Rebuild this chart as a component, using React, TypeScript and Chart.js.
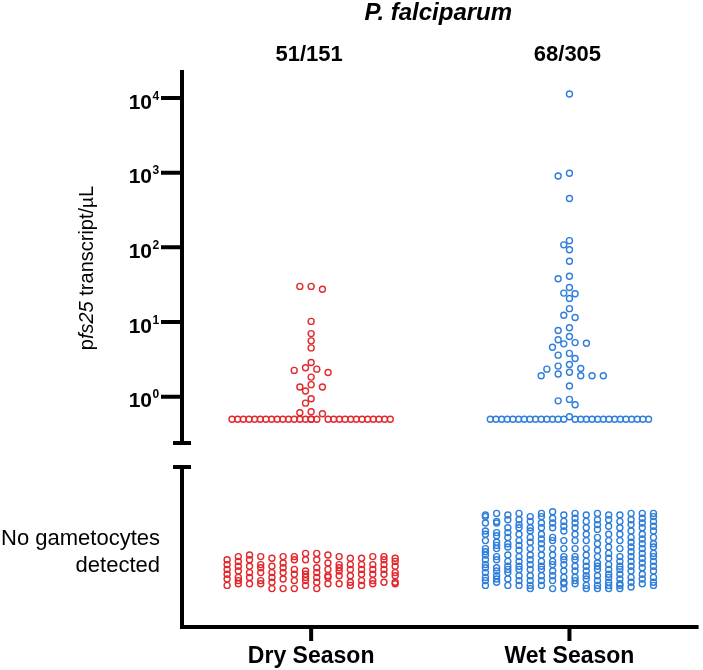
import { useEffect, useRef } from "react"
import { Chart, registerables } from "chart.js"

Chart.register(...registerables)

const chartTitle = "P. falciparum"
const seasons = ["Dry Season", "Wet Season"]
const positiveLabels = ["51/151", "68/305"]
const seasonColors = ["#e2282d", "#2e7edb"]
const decadeTicks = [0, 1, 2, 3, 4]

// pfs25 transcripts/µL in gametocyte positive samples
const dryDetected = [
  30, 30, 27.5, 10.2, 7.0, 5.6, 4.5, 2.87, 2.44, 2.34, 2.25, 2.11, 1.83, 1.45, 1.35, 1.35,
  1.19, 0.94, 0.82, 0.63, 0.61, 0.59,
  0.5, 0.5, 0.5, 0.5, 0.5, 0.5, 0.5, 0.5, 0.5, 0.5, 0.5, 0.5, 0.5, 0.5, 0.5, 0.5, 0.5, 0.5,
  0.5, 0.5, 0.5, 0.5, 0.5, 0.5, 0.5, 0.5, 0.5, 0.5, 0.5,
]
const wetDetected = [
  11300, 982, 904, 450, 123, 108, 93, 65, 41, 38, 29, 24.4, 23.9, 20.7, 15.1, 12.3, 11.5,
  8.4, 7.7, 6.4, 5.8, 5.3, 5.2, 5.1, 4.6, 3.8, 3.6, 3.25, 2.7, 2.57, 2.39, 2.34, 2.13, 2.01,
  1.91, 1.91, 1.91, 1.91, 1.39, 0.92, 0.88, 0.78, 0.54,
  0.5, 0.5, 0.5, 0.5, 0.5, 0.5, 0.5, 0.5, 0.5, 0.5, 0.5, 0.5, 0.5, 0.5, 0.5, 0.5, 0.5, 0.5,
  0.5, 0.5, 0.5, 0.5, 0.5, 0.5, 0.5, 0.5, 0.5, 0.5,
]

// "no gametocytes detected" band (lower axis segment, 0-100), one list per column
const dryUndetected = [
  [42, 39, 36, 33, 30, 26],
  [44, 41, 38, 35, 31, 29, 27],
  [45, 42, 38, 34, 31, 27],
  [44, 39, 37, 34, 29, 27],
  [43, 38, 34, 31, 28, 24],
  [44, 40, 37, 34, 30, 24],
  [44, 42, 36, 33, 29, 24],
  [46, 42, 35, 33, 31, 29, 26],
  [46, 42, 37, 34, 31, 28, 24],
  [45, 40, 36, 32, 31, 27],
  [44, 39, 37, 35, 32, 27],
  [43, 39, 36, 32, 28, 26],
  [43, 39, 36, 33, 29, 26],
  [44, 39, 36, 33, 29, 27],
  [44, 42, 39, 36, 33, 28],
  [43, 41, 38, 34, 32, 28, 27],
]
const wetUndetected = [
  [70, 69, 65, 60, 58, 54, 49, 47, 45, 42, 39, 37, 34, 31, 29, 26],
  [71, 66, 65, 59, 57, 53, 51, 49, 44, 42, 37, 35, 32, 30, 28],
  [70, 67, 62, 59, 56, 52, 50, 45, 41, 38, 36, 34, 30, 26],
  [71, 67, 64, 62, 58, 54, 51, 48, 44, 41, 38, 36, 32, 29, 26],
  [69, 66, 62, 60, 56, 53, 49, 45, 42, 39, 36, 32, 29, 26, 24],
  [71, 69, 65, 62, 58, 55, 52, 49, 45, 41, 38, 36, 32, 29, 26],
  [72, 68, 65, 62, 56, 54, 49, 45, 41, 39, 35, 32, 29, 24],
  [70, 66, 63, 60, 54, 49, 44, 42, 39, 35, 31, 28, 27, 24],
  [71, 68, 65, 62, 58, 54, 49, 44, 42, 38, 35, 31, 29, 27],
  [70, 66, 62, 58, 54, 49, 45, 41, 38, 35, 32, 30, 26, 24],
  [71, 67, 64, 61, 56, 52, 48, 44, 40, 38, 36, 32, 29, 26, 24],
  [70, 67, 63, 58, 54, 50, 46, 43, 39, 36, 33, 31, 28, 26, 24],
  [70, 66, 62, 58, 54, 49, 44, 41, 38, 36, 33, 30, 27, 26, 24],
  [71, 67, 64, 60, 56, 53, 50, 47, 44, 41, 38, 35, 31, 28, 25],
  [71, 68, 65, 62, 58, 55, 52, 49, 46, 43, 40, 37, 33, 30, 27],
  [71, 69, 66, 63, 60, 56, 52, 50, 46, 44, 41, 38, 35, 31, 28, 26],
]

const FONT = '"Liberation Sans", Arial, Helvetica, sans-serif'
const LOG_MIN = 10 ** -3.084
const LOG_MAX = 10 ** 4.375
const BREAK_LOW = 0.24 // where the log segment stops
const BAND_MAX = 348.1 // top of the lower (band) scale
const BAND_AXIS_TOP = 100 // where the lower axis segment starts

// simple beeswarm: place each point at the nearest free slot around the column centre
function swarm(values: number[], center: number, xs: any, ys: any) {
  const step = 5.7
  const maxHalf = 85
  const cx = xs.getPixelForValue(center)
  const order = values.map((_, i) => i).sort((a, b) => values[b] - values[a])
  const slots = [0]
  for (let k = 1; k * step <= maxHalf; k++) slots.push(-k * step, k * step)
  const placed: { x: number; y: number }[] = []
  const out: { x: number; y: number }[] = new Array(values.length)
  for (const i of order) {
    const py = ys.getPixelForValue(values[i])
    let off = 0
    for (const dist of [7, 5.5]) {
      const free = slots.find((s) => placed.every((p) => Math.hypot(p.x - s, p.y - py) >= dist))
      if (free !== undefined) {
        off = free
        break
      }
    }
    placed.push({ x: off, y: py })
    out[i] = { x: xs.getValueForPixel(cx + off), y: values[i] }
  }
  return out
}

function columns(cols: number[][], center: number, xs: any) {
  const gap = 11.3
  const cx = xs.getPixelForValue(center)
  return cols.flatMap((col, i) =>
    col.map((v) => ({ x: xs.getValueForPixel(cx + (i - (cols.length - 1) / 2) * gap), y: v }))
  )
}

const brokenAxes = {
  id: "brokenAxes",
  afterDraw(chart: any) {
    const { ctx, chartArea: area } = chart
    const xs = chart.scales.x
    const ys = chart.scales.y
    const y2 = chart.scales.y2
    const ax = area.left
    const ay = area.bottom
    const breakY = ys.getPixelForValue(BREAK_LOW)
    const lowerTop = y2.getPixelForValue(BAND_AXIS_TOP)

    ctx.save()
    ctx.strokeStyle = "#000"
    ctx.lineWidth = 4
    ctx.lineCap = "butt"
    ctx.beginPath()
    ctx.moveTo(ax, area.top)
    ctx.lineTo(ax, breakY)
    ctx.moveTo(ax - 9, breakY)
    ctx.lineTo(ax + 9, breakY)
    ctx.moveTo(ax - 9, lowerTop)
    ctx.lineTo(ax + 9, lowerTop)
    ctx.moveTo(ax, lowerTop)
    ctx.lineTo(ax, ay + 2)
    ctx.moveTo(ax - 2, ay)
    ctx.lineTo(area.right, ay)
    decadeTicks.forEach((e) => {
      const y = ys.getPixelForValue(10 ** e)
      ctx.moveTo(ax - 21, y)
      ctx.lineTo(ax, y)
    })
    seasons.forEach((_, i) => {
      const x = xs.getPixelForValue(i + 1)
      ctx.moveTo(x, ay)
      ctx.lineTo(x, ay + 14)
    })
    ctx.stroke()

    ctx.fillStyle = "#000"
    // decade labels 10^n
    decadeTicks.forEach((e) => {
      const y = ys.getPixelForValue(10 ** e)
      ctx.font = `bold 21px ${FONT}`
      ctx.textAlign = "right"
      ctx.textBaseline = "alphabetic"
      ctx.fillText("10", ax - 30, y + 10.5)
      ctx.font = `bold 12px ${FONT}`
      ctx.textAlign = "left"
      ctx.fillText(String(e), ax - 29.5, y + 1.5)
    })

    // title and positive counts
    ctx.textAlign = "center"
    ctx.font = `italic bold 24px ${FONT}`
    ctx.fillText(chartTitle, (area.left + area.right) / 2 - 2, 20)
    ctx.font = `bold 22px ${FONT}`
    positiveLabels.forEach((t, i) => ctx.fillText(t, xs.getPixelForValue(i + 1) - 2, 61))
    ctx.font = `bold 23px ${FONT}`
    seasons.forEach((t, i) => ctx.fillText(t, xs.getPixelForValue(i + 1), 663))

    // lower segment label
    ctx.textAlign = "right"
    ctx.font = `22px ${FONT}`
    ctx.fillText("No gametocytes", 160, 545)
    ctx.fillText("detected", 160, 572)

    // rotated y title: pfs25 transcript/µL
    const parts = [
      { t: "p", f: `20px ${FONT}` },
      { t: "fs25", f: `italic 20px ${FONT}` },
      { t: " transcript/", f: `20px ${FONT}` },
      { t: "\u00b5", f: `19px ${FONT}` },
      { t: "L", f: `20px ${FONT}` },
    ]
    let total = 0
    parts.forEach((p) => {
      ctx.font = p.f
      total += ctx.measureText(p.t).width
    })
    ctx.translate(92.5, 268)
    ctx.rotate(-Math.PI / 2)
    ctx.textAlign = "left"
    let x = -total / 2
    parts.forEach((p) => {
      ctx.font = p.f
      ctx.fillText(p.t, x, 0)
      x += ctx.measureText(p.t).width
    })
    ctx.restore()
  },
}

function pointSet(color: string, axis: string) {
  return {
    data: [] as { x: number; y: number }[],
    yAxisID: axis,
    borderColor: color,
    backgroundColor: "rgba(0,0,0,0)",
    pointBackgroundColor: "rgba(0,0,0,0)",
    pointBorderColor: color,
    pointRadius: 3,
    pointBorderWidth: 1.4,
    pointHoverRadius: 3,
    clip: false as const,
  }
}

export default function App() {
  const chartRef = useRef<HTMLCanvasElement>(null)
  const chartInstance = useRef<Chart | null>(null)

  useEffect(() => {
    document.body.style.margin = "0"
    if (!chartRef.current) return
    if (chartInstance.current) chartInstance.current.destroy()
    const ctx = chartRef.current.getContext("2d")
    if (!ctx) return

    const chart = new Chart(ctx, {
      type: "scatter",
      data: {
        datasets: [
          pointSet(seasonColors[0], "y"),
          pointSet(seasonColors[1], "y"),
          pointSet(seasonColors[0], "y2"),
          pointSet(seasonColors[1], "y2"),
        ],
      },
      options: {
        responsive: false,
        animation: false,
        events: [],
        layout: { padding: { left: 182, top: 70, right: 0, bottom: 43 } },
        scales: {
          x: { type: "linear", min: 0.5, max: 2.5, display: false },
          y: { type: "logarithmic", min: LOG_MIN, max: LOG_MAX, bounds: "data", display: false },
          y2: { type: "linear", min: 0, max: BAND_MAX, bounds: "data", display: false },
        },
        plugins: {
          legend: { display: false },
          tooltip: { enabled: false },
        },
      },
      plugins: [brokenAxes],
    })
    chartInstance.current = chart

    const xs = chart.scales.x
    const ys = chart.scales.y
    chart.data.datasets[0].data = swarm(dryDetected, 1, xs, ys)
    chart.data.datasets[1].data = swarm(wetDetected, 2, xs, ys)
    chart.data.datasets[2].data = columns(dryUndetected, 1, xs)
    chart.data.datasets[3].data = columns(wetUndetected, 2, xs)
    chart.update()

    return () => {
      if (chartInstance.current) {
        chartInstance.current.destroy()
        chartInstance.current = null
      }
    }
  }, [])

  return (
    <div style={{ width: 703, height: 670, background: "#fff" }}>
      <canvas ref={chartRef} width={703} height={670} style={{ display: "block" }}></canvas>
    </div>
  )
}
